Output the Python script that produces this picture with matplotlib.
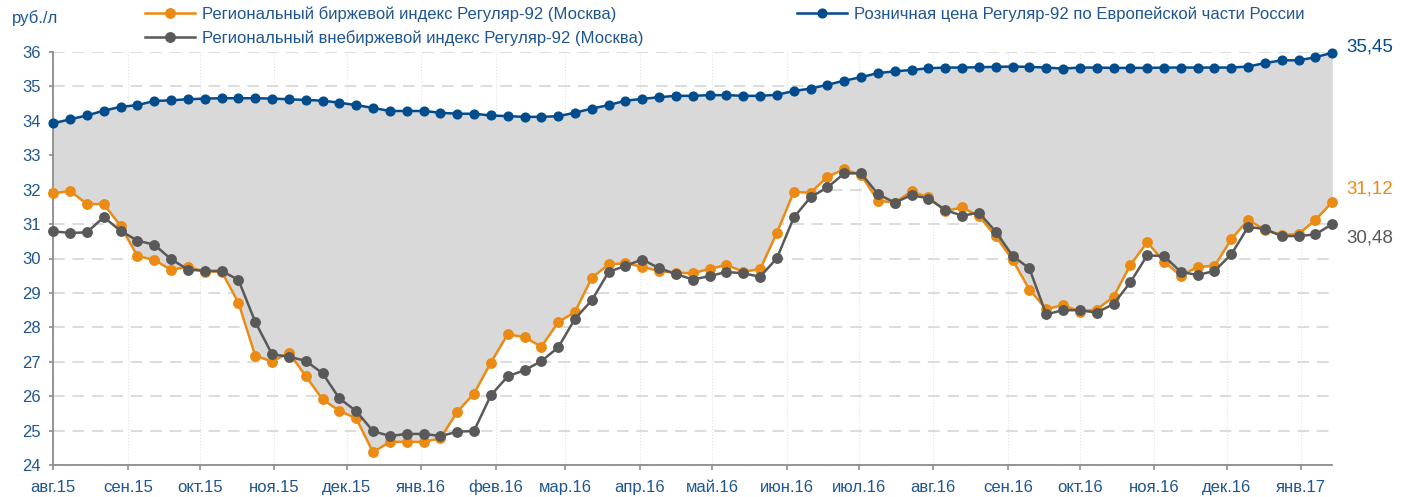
import numpy as np
import pandas as pd
import matplotlib
matplotlib.use('Agg')
import matplotlib.pyplot as plt
from matplotlib.lines import Line2D

plt.rcParams['font.family'] = ['Liberation Sans', 'DejaVu Sans']

# weekly observations, rub/l
dates = pd.date_range('2015-08-01', periods=77, freq='7D')

retail = [33.40, 33.52, 33.63, 33.77, 33.88, 33.93, 34.05, 34.07, 34.10, 34.12,
          34.13, 34.13, 34.13, 34.12, 34.10, 34.08, 34.06, 34.00, 33.93, 33.85,
          33.76, 33.76, 33.76, 33.71, 33.68, 33.68, 33.63, 33.61, 33.59, 33.59,
          33.61, 33.71, 33.83, 33.93, 34.06, 34.11, 34.16, 34.20, 34.20, 34.22,
          34.22, 34.20, 34.20, 34.23, 34.34, 34.41, 34.52, 34.64, 34.74, 34.86,
          34.91, 34.95, 35.00, 35.02, 35.02, 35.03, 35.04, 35.05, 35.04, 35.02,
          34.99, 35.02, 35.02, 35.01, 35.01, 35.01, 35.02, 35.02, 35.02, 35.02,
          35.02, 35.05, 35.15, 35.23, 35.23, 35.32, 35.45]

exchange = [31.37, 31.44, 31.06, 31.06, 30.42, 29.55, 29.44, 29.15, 29.24, 29.10,
            29.10, 28.20, 26.66, 26.49, 26.75, 26.07, 25.39, 25.06, 24.84, 23.86,
            24.16, 24.16, 24.16, 24.26, 25.03, 25.56, 26.46, 27.28, 27.20, 26.92,
            27.63, 27.93, 28.92, 29.31, 29.34, 29.24, 29.11, 29.07, 29.05, 29.18,
            29.29, 29.10, 29.17, 30.23, 31.41, 31.39, 31.85, 32.07, 31.90, 31.16,
            31.10, 31.43, 31.25, 30.86, 30.96, 30.71, 30.13, 29.44, 28.58, 28.01,
            28.13, 27.94, 28.00, 28.37, 29.29, 29.95, 29.39, 28.98, 29.24, 29.26,
            30.04, 30.60, 30.31, 30.16, 30.19, 30.60, 31.12]

otc = [30.27, 30.22, 30.24, 30.68, 30.28, 30.00, 29.88, 29.46, 29.16, 29.12,
       29.12, 28.86, 27.64, 26.70, 26.63, 26.51, 26.15, 25.42, 25.05, 24.47,
       24.33, 24.39, 24.39, 24.33, 24.45, 24.48, 25.51, 26.06, 26.24, 26.50,
       26.90, 27.73, 28.27, 29.09, 29.27, 29.45, 29.20, 29.03, 28.87, 28.97,
       29.09, 29.05, 28.95, 29.49, 30.67, 31.26, 31.54, 31.95, 31.95, 31.35,
       31.10, 31.32, 31.22, 30.89, 30.72, 30.81, 30.26, 29.56, 29.19, 27.86,
       27.98, 27.98, 27.91, 28.16, 28.79, 29.57, 29.55, 29.09, 29.00, 29.12,
       29.60, 30.40, 30.33, 30.13, 30.13, 30.18, 30.48]

names = ['Региональный биржевой индекс Регуляр-92 (Москва)',
         'Региональный внебиржевой индекс Регуляр-92 (Москва)',
         'Розничная цена Регуляр-92 по Европейской части России']
months = ['янв', 'фев', 'мар', 'апр', 'май', 'июн',
          'июл', 'авг', 'сен', 'окт', 'ноя', 'дек']
month_ticks = pd.date_range('2015-08-01', '2017-01-01', freq='MS')
y_labels = list(range(24, 37))
# printed scale sits 0.52 above the series values
scale_offset = 0.52

c_blue = '#004C8C'
c_orange = '#EC8B14'
c_gray = '#595959'
c_text = '#1F5591'
c_fill = '#D9D9D9'

fig = plt.figure(figsize=(14.06, 4.97), dpi=100)
ax = fig.add_axes([53.3 / 1406, 1 - 465.3 / 497, 1279 / 1406, 413.6 / 497])

ax.set_axisbelow(True)
ax.fill_between(dates, exchange, retail, color=c_fill, lw=0, zorder=1)
ax.plot(dates, retail, color=c_blue, lw=1.8, marker='o', ms=6.3, clip_on=False, zorder=4)
ax.plot(dates, exchange, color=c_orange, lw=1.8, marker='o', ms=6.8, clip_on=False, zorder=4)
ax.plot(dates, otc, color=c_gray, lw=1.8, marker='o', ms=6.8, clip_on=False, zorder=5)

ax.set_xlim(dates[0], dates[-1])
ax.set_ylim(y_labels[0] - scale_offset, y_labels[-1] - scale_offset)
ax.set_yticks(np.array(y_labels) - scale_offset)
ax.set_yticklabels([str(v) for v in y_labels])
ax.set_xticks(month_ticks)
ax.set_xticklabels([f'{months[d.month - 1]}.{d.year % 100}' for d in month_ticks])
for lab in ax.get_xticklabels():
    lab.set_verticalalignment('baseline')

ax.grid(axis='y', color='#DCDCDC', lw=1.4, ls=(0, (6, 4)))
ax.grid(axis='x', color='#E2E2E2', lw=0.8, ls=':')
for s in ['top', 'right']:
    ax.spines[s].set_visible(False)
for s in ['left', 'bottom']:
    ax.spines[s].set_color('#8C8C8C')
    ax.spines[s].set_linewidth(1.3)
ax.tick_params(axis='y', colors='#8C8C8C', labelcolor=c_text, labelsize=12,
               length=3, width=1.2, pad=6)
ax.tick_params(axis='x', colors='#8C8C8C', labelcolor=c_text, labelsize=12,
               length=3.5, width=1.2, pad=15.5)

fig.text(12 / 1406, 1 - 18 / 497, 'руб./л', color=c_text, fontsize=12, va='center')

# end-of-series values
for vals, col, dy in [(retail, c_blue, 4), (exchange, c_orange, 9), (otc, c_gray, -10)]:
    ax.annotate(f'{vals[-1]:.2f}'.replace('.', ','), xy=(dates[-1], vals[-1]),
                xytext=(10, dy), textcoords='offset points', ha='left', va='center',
                fontsize=13.5, color=col, annotation_clip=False)

h_orange = Line2D([], [], color=c_orange, lw=1.8, marker='o', ms=6.8)
h_gray = Line2D([], [], color=c_gray, lw=1.8, marker='o', ms=6.8)
h_blue = Line2D([], [], color=c_blue, lw=1.8, marker='o', ms=6.3)
leg_opts = dict(loc='upper left', bbox_transform=fig.transFigure, frameon=False,
                fontsize=12, labelcolor=c_text, handlelength=3.0, handletextpad=0.45,
                labelspacing=0.48, borderpad=0, borderaxespad=0)
leg1 = ax.legend([h_orange, h_gray], names[:2], bbox_to_anchor=(145 / 1406, 1 - 6 / 497), **leg_opts)
ax.add_artist(leg1)
ax.legend([h_blue], names[2:], bbox_to_anchor=(797 / 1406, 1 - 6 / 497), **leg_opts)

fig.savefig('out.png', dpi=100)
